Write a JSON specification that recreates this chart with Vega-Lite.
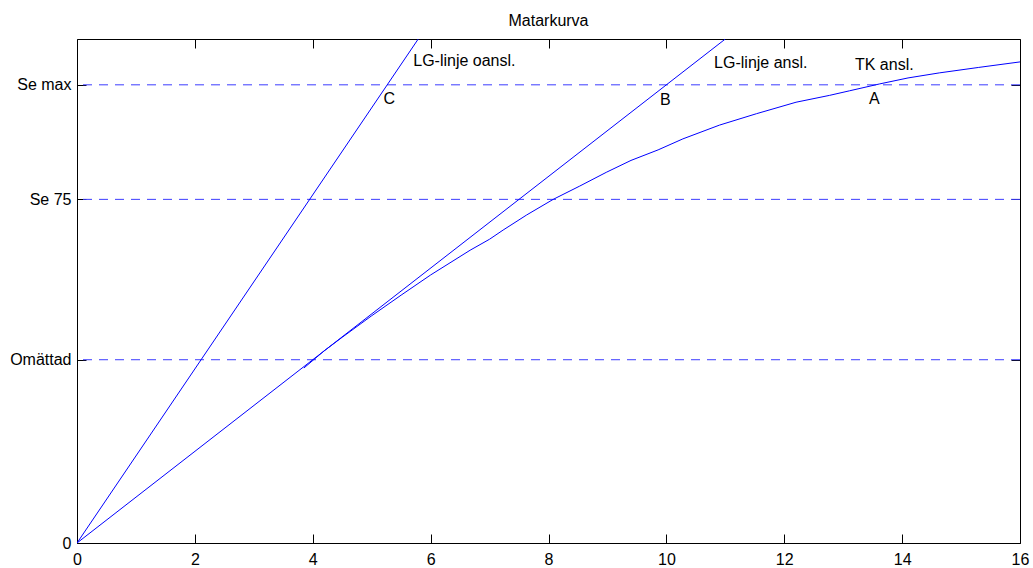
{
  "$schema": "https://vega.github.io/schema/vega-lite/v6.json",
  "width": 943,
  "height": 504,
  "autosize": {"type": "none"},
  "padding": {"left": 77, "top": 39, "right": 13, "bottom": 25},
  "background": "white",
  "title": {"text": "Matarkurva", "fontSize": 16, "fontWeight": "normal", "font": "Liberation Sans", "color": "black", "offset": -3, "baseline": "alphabetic"},
  "config": {
    "view": {"stroke": "black", "strokeWidth": 1},
    "font": "Liberation Sans",
    "axis": {"grid": false, "domain": false, "tickColor": "black", "tickWidth": 1, "tickSize": -9, "labelFont": "Liberation Sans", "labelFontSize": 16, "labelColor": "black", "title": null}
  },
  "datasets": {
    "lines": [
      {"series": "C", "x": 0, "y": 0},
      {"series": "C", "x": 5.79, "y": 1.1},
      {"series": "B", "x": 0, "y": 0},
      {"series": "B", "x": 11.0, "y": 1.1},
      {"series": "TK", "x": 3.85, "y": 0.382},
      {"series": "TK", "x": 4.2, "y": 0.42},
      {"series": "TK", "x": 4.5, "y": 0.449},
      {"series": "TK", "x": 5.0, "y": 0.496},
      {"series": "TK", "x": 5.5, "y": 0.541},
      {"series": "TK", "x": 6.0, "y": 0.585},
      {"series": "TK", "x": 6.67, "y": 0.639},
      {"series": "TK", "x": 7.0, "y": 0.663},
      {"series": "TK", "x": 7.23, "y": 0.683},
      {"series": "TK", "x": 7.63, "y": 0.716},
      {"series": "TK", "x": 8.08, "y": 0.75},
      {"series": "TK", "x": 8.53, "y": 0.779},
      {"series": "TK", "x": 8.98, "y": 0.809},
      {"series": "TK", "x": 9.4, "y": 0.835},
      {"series": "TK", "x": 9.86, "y": 0.858},
      {"series": "TK", "x": 10.28, "y": 0.882},
      {"series": "TK", "x": 10.9, "y": 0.912},
      {"series": "TK", "x": 11.53, "y": 0.937},
      {"series": "TK", "x": 12.2, "y": 0.962},
      {"series": "TK", "x": 12.77, "y": 0.977},
      {"series": "TK", "x": 13.11, "y": 0.987},
      {"series": "TK", "x": 13.62, "y": 1.002},
      {"series": "TK", "x": 14.1, "y": 1.015},
      {"series": "TK", "x": 14.63, "y": 1.026},
      {"series": "TK", "x": 15.3, "y": 1.038},
      {"series": "TK", "x": 16.0, "y": 1.05}
    ],
    "refs": [
      {"level": "Omättad", "y": 0.4},
      {"level": "Se 75", "y": 0.75},
      {"level": "Se max", "y": 1.0}
    ],
    "labels": [
      {"x": 5.705, "y": 1.052, "label": "LG-linje oansl."},
      {"x": 10.81, "y": 1.048, "label": "LG-linje ansl."},
      {"x": 13.2, "y": 1.043, "label": "TK ansl."},
      {"x": 5.2, "y": 0.969, "label": "C"},
      {"x": 9.89, "y": 0.966, "label": "B"},
      {"x": 13.44, "y": 0.969, "label": "A"}
    ]
  },
  "resolve": {"axis": {"x": "independent", "y": "independent"}},
  "layer": [
    {
      "data": {"name": "refs"},
      "mark": {"type": "rule", "color": "#3c3cff", "strokeWidth": 1, "strokeDash": [9, 7]},
      "encoding": {
        "y": {"field": "y", "type": "quantitative", "scale": {"domain": [0, 1.1], "nice": false, "zero": false}, "axis": null}
      }
    },
    {
      "data": {"name": "lines"},
      "mark": {"type": "line", "color": "#0000ff", "strokeWidth": 1, "clip": true},
      "encoding": {
        "x": {"field": "x", "type": "quantitative", "scale": {"domain": [0, 16], "nice": false, "zero": false},
              "axis": {"orient": "bottom", "values": [0, 2, 4, 6, 8, 10, 12, 14, 16], "labelPadding": 17, "labelFlush": false}},
        "y": {"field": "y", "type": "quantitative", "scale": {"domain": [0, 1.1], "nice": false, "zero": false},
              "axis": {"orient": "left", "values": [0, 0.4, 0.75, 1], "labelPadding": 15,
                       "labelExpr": "datum.value == 0 ? '0' : datum.value == 0.4 ? 'Omättad' : datum.value == 0.75 ? 'Se 75' : 'Se max'"}},
        "detail": {"field": "series", "type": "nominal"}
      }
    },
    {
      "data": {"name": "lines"},
      "mark": {"type": "line", "opacity": 0},
      "encoding": {
        "x": {"field": "x", "type": "quantitative", "axis": {"orient": "top", "values": [0, 2, 4, 6, 8, 10, 12, 14, 16], "labels": false}},
        "y": {"field": "y", "type": "quantitative", "axis": {"orient": "right", "values": [0, 0.4, 0.75, 1], "labels": false}},
        "detail": {"field": "series", "type": "nominal"}
      }
    },
    {
      "data": {"name": "labels"},
      "mark": {"type": "text", "align": "left", "baseline": "middle", "fontSize": 16, "font": "Liberation Sans", "color": "black"},
      "encoding": {
        "x": {"field": "x", "type": "quantitative", "axis": null},
        "y": {"field": "y", "type": "quantitative", "axis": null},
        "text": {"field": "label", "type": "nominal"}
      }
    }
  ]
}
